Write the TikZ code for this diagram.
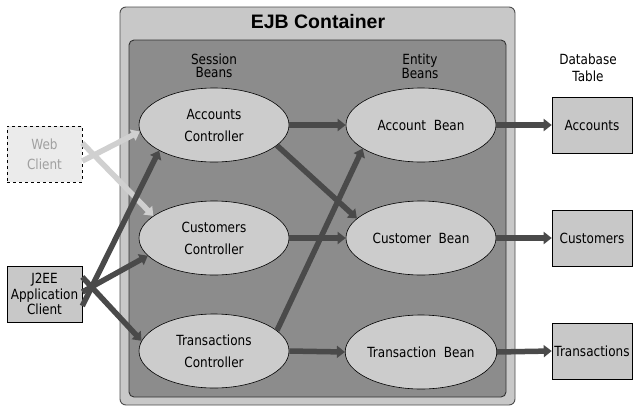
\documentclass[tikz,border=0pt]{standalone}
\usepackage{fontspec}
\setmainfont[FakeStretch=0.86]{DejaVu Sans}
\newfontfamily\titlefont{Liberation Sans}
\usetikzlibrary{shapes.geometric,arrows.meta}
\definecolor{outerfill}{HTML}{C8C8C8}
\definecolor{innerfill}{HTML}{8C8C8C}
\definecolor{ellfill}{HTML}{CCCCCC}
\definecolor{tblfill}{HTML}{C8C8C8}
\definecolor{webfill}{HTML}{EBEBEB}
\definecolor{webtext}{HTML}{A0A0A0}
\definecolor{arrdark}{HTML}{4A4A4A}
\definecolor{arrlight}{HTML}{D0D0D0}
\begin{document}
\begin{tikzpicture}[x=1pt,y=-1pt,
  ell/.style={ellipse, draw=black, fill=ellfill, line width=0.6pt,
    minimum width=150pt, minimum height=74pt, inner sep=0pt,
    font=\fontsize{14}{22}\selectfont, align=center},
  tbl/.style={draw=black, fill=tblfill, line width=0.6pt,
    minimum width=80pt, minimum height=56pt, inner sep=0pt,
    font=\fontsize{14}{15}\selectfont},
  clientbox/.style={draw=black, line width=0.6pt, minimum width=75pt,
    minimum height=56pt, inner sep=0pt, align=center},
  arr/.style={line width=5.5pt, draw=arrdark,
    -{Triangle[length=8pt,width=12pt]}},
  larr/.style={line width=5.5pt, draw=arrlight,
    -{Triangle[length=8pt,width=12pt]}}
]
\useasboundingbox (0,0) rectangle (635,408);

% containers
\draw[fill=outerfill, draw=black!70, line width=0.9pt, rounded corners=6pt]
  (120,7) rectangle (515,405);
\draw[fill=innerfill, draw=black!80, line width=0.9pt, rounded corners=5pt]
  (129,40) rectangle (506,397);
\node[font=\titlefont\bfseries\fontsize{19.5}{20}\selectfont] (title) at (318,22) {EJB Container};

% headings
\node[font=\fontsize{14}{13}\selectfont, align=center] (sb) at (214,66) {Session\\Beans};
\node[font=\fontsize{14}{13}\selectfont, align=center] (eb) at (420,66) {Entity\\Beans};
\node[font=\fontsize{14}{17}\selectfont, align=center] (dbt) at (588,68) {Database\\Table};

% session beans
\node[ell] (ac) at (214,125) {Accounts\\Controller};
\node[ell] (cc) at (214,238) {Customers\\Controller};
\node[ell] (tc) at (214,351) {Transactions\\Controller};

% entity beans
\node[ell] (ab) at (421,125) {Account\ \ Bean};
\node[ell] (cb) at (421,238) {Customer\ \ Bean};
\node[ell] (tb) at (421,352) {Transaction\ \ Bean};

% tables
\node[tbl] (tacc) at (592,125) {Accounts};
\node[tbl] (tcus) at (592,238) {Customers};
\node[tbl] (ttra) at (592,351) {Transactions};

% clients
\node[clientbox, dashed, fill=webfill, text=webtext,
  font=\fontsize{14}{20}\selectfont] (web) at (44.5,154) {Web\\Client};
\node[clientbox, fill=tblfill, font=\fontsize{14}{15.5}\selectfont] (j2ee) at (44.5,294) {J2EE\\Application\\Client};

% client arrows
\draw[larr] ([yshift=-7pt]web.east) -- (ac.185);
\draw[larr] ([yshift=11pt]web.east) -- (cc.160);
\draw[arr] ([yshift=-12pt]j2ee.east) -- (ac.205);
\draw[arr] ([yshift=2pt]j2ee.east) -- (cc.195);
\draw[arr] ([yshift=17pt]j2ee.east) -- (tc.172);

% session -> entity
\draw[arr] (ac.east) -- (ab.west);
\draw[arr] (ac.-18) -- (cb.163);
\draw[arr] (cc.east) -- (cb.west);
\draw[arr] (tc.18) -- (ab.202);
\draw[arr] (tc.east) -- (tb.west);

% entity -> tables
\draw[arr] (ab.east) -- (tacc.west);
\draw[arr] (cb.east) -- (tcus.west);
\draw[arr] (tb.east) -- (ttra.west);
\end{tikzpicture}
\end{document}
